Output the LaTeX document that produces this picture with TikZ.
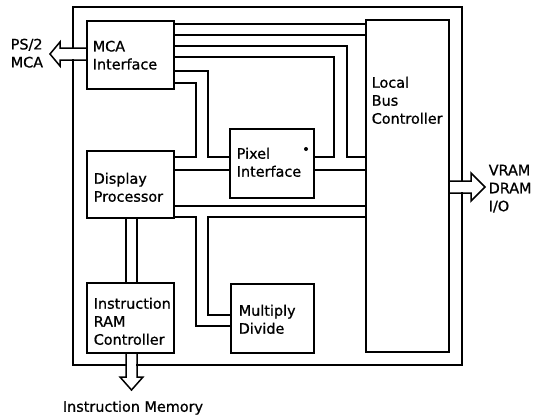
\documentclass[tikz,border=0pt]{standalone}
\usepackage{fontspec}
\setmainfont[FakeBold=0.8]{DejaVu Sans}
\begin{document}
\begin{tikzpicture}[x=1pt,y=-1pt,line width=1.5pt,line join=miter,
  blk/.style={draw,inner sep=0pt,outer sep=0pt},
  lbl/.style={inner sep=0pt,anchor=north west,align=left,
    font=\fontsize{14.4}{18}\selectfont,
    execute at begin node={\rule{0pt}{11pt}}}]
\useasboundingbox (0,0) rectangle (538,416);
% boxes
\node[blk,minimum width=389pt,minimum height=358pt] (outer) at (267.5,186) {};
\node[blk,minimum width=87pt,minimum height=68pt] (mca) at (130.5,55) {};
\node[blk,minimum width=87pt,minimum height=67pt] (dp) at (130.5,184.5) {};
\node[blk,minimum width=87pt,minimum height=70pt] (iram) at (130.5,318) {};
\node[blk,minimum width=84pt,minimum height=69pt] (pix) at (272,163.5) {};
\node[blk,minimum width=83pt,minimum height=69pt] (mul) at (272.5,318.5) {};
\node[blk,minimum width=83pt,minimum height=332pt] (lbc) at (407.5,186) {};
% labels
\node[lbl] (mcaL) at (92,40) {MCA\\Interface};
\node[lbl] (dpL) at (93,172) {Display\\Processor};
\node[lbl] (iramL) at (93,297) {Instruction\\RAM\\Controller};
\node[lbl] (pixL) at (236,147) {Pixel\\Interface};
\node[lbl] (mulL) at (238,304) {Multiply\\Divide};
\node[lbl] (lbcL) at (371,76) {Local\\Bus\\Controller};
\node[lbl] (ps2L) at (10,38) {PS/2\\MCA};
\node[lbl] (vramL) at (488,164) {VRAM\\DRAM\\I/O};
\node[lbl,anchor=north] (imL) at (133,400) {Instruction Memory};
\fill (306,149) circle (2pt);
% buses MCA -> LBC
\draw (mca.east|-0,24) -- (lbc.west|-0,24);
\draw (mca.east|-0,35) -- (lbc.west|-0,35);
% MCA -> Pixel / LBC
\draw (mca.east|-0,46) -- (347,46) -- (347,157) -- (lbc.west|-0,157);
\draw (mca.east|-0,57) -- (334,57) -- (334,157) -- (pix.east|-0,157);
\draw (pix.east|-0,170) -- (lbc.west|-0,170);
% MCA -> DP / Pixel
\draw (mca.east|-0,71) -- (208,71) -- (208,157) -- (pix.west|-0,157);
\draw (mca.east|-0,83) -- (196,83) -- (196,157) -- (dp.east|-0,157);
\draw (dp.east|-0,170) -- (pix.west|-0,170);
% DP -> LBC / Multiply
\draw (dp.east|-0,206) -- (lbc.west|-0,206);
\draw (dp.east|-0,217) -- (196,217) -- (196,326) -- (mul.west|-0,326);
\draw (lbc.west|-0,217) -- (208,217) -- (208,315) -- (mul.west|-0,315);
% DP -> IRAM
\draw (126,0|-dp.south) -- (126,0|-iram.north);
\draw (137,0|-dp.south) -- (137,0|-iram.north);
% hollow arrows
\fill[white] (61,49) rectangle (86,59);
\coordinate (ltip) at (50,54);
\draw (mca.west|-0,48) -- (60,48) -- (60,42) -- (ltip) -- (60,66) -- (60,60) -- (mca.west|-0,60);
\fill[white] (450,182) rectangle (470,192);
\coordinate (rtip) at (485,187);
\draw (lbc.east|-0,181) -- (471,181) -- (471,173) -- (rtip) -- (471,201) -- (471,193) -- (lbc.east|-0,193);
\fill[white] (127,354) rectangle (136,376);
\coordinate (btip) at (131.5,390);
\draw (126,0|-iram.south) -- (126,377) -- (120,377) -- (btip) -- (143,377) -- (137,377) -- (137,0|-iram.south);
\end{tikzpicture}
\end{document}
